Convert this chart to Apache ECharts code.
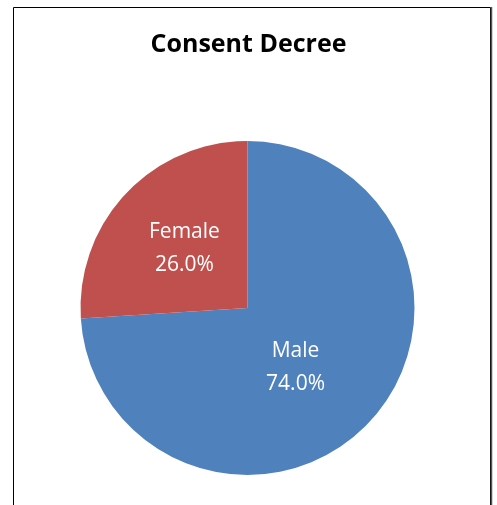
<!DOCTYPE html>
<html><head><meta charset="utf-8">
<script src="https://cdn.jsdelivr.net/npm/echarts@6/dist/echarts.min.js"></script>
<style>html,body{margin:0;padding:0;background:#fff}#c{width:497px;height:505px}</style>
</head><body><div id="c"></div>
<script>
const categories = ["Male", "Female"];
const values = [74.0, 26.0];
const colors = ["#4F81BD", "#C0504D"];
const chart = echarts.init(document.getElementById('c'), null, {renderer: 'canvas'});
chart.setOption({
  animation: false,
  backgroundColor: '#fff',
  title: {
    text: 'Consent Decree', left: 'center', top: 27,
    textStyle: {fontFamily: 'Open Sans', fontWeight: 'bold', fontSize: 25, color: '#000'}
  },
  graphic: [
    {type: 'rect', shape: {x: 13.5, y: 7.5, width: 477, height: 520}, style: {fill: 'none', stroke: '#000', lineWidth: 1}, z: -1},
    {type: 'line', shape: {x1: 491.5, y1: 7, x2: 491.5, y2: 505}, style: {stroke: '#555', lineWidth: 1.5}, z: -1}
  ],
  series: [{
    type: 'pie',
    center: [247.5, 308],
    radius: [0, 167],
    startAngle: 90,
    clockwise: true,
    silent: true,
    itemStyle: {borderWidth: 0},
    label: {
      show: true, position: 'inside', color: '#fff',
      fontFamily: 'Open Sans', fontSize: 21, lineHeight: 33,
      formatter: p => p.name + '\n' + p.value.toFixed(1) + '%'
    },
    labelLine: {show: false},
    data: categories.map((n, i) => ({
      name: n, value: values[i], itemStyle: {color: colors[i]},
      label: i === 0 ? {offset: [-15, 0]} : {}
    }))
  }]
});
</script></body></html>
